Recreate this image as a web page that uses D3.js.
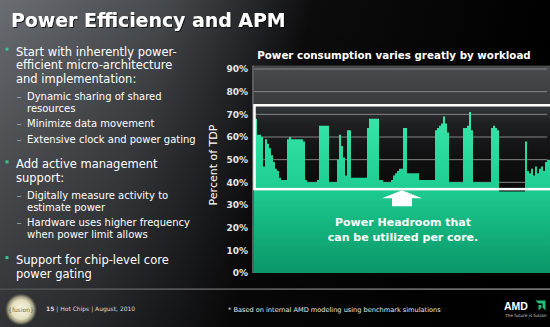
<!DOCTYPE html>
<html>
<head>
<meta charset="utf-8">
<script src="https://cdn.jsdelivr.net/npm/d3@7"></script>
<style>
  body { margin: 0; background: #000; }
  svg { display: block; font-family: "DejaVu Sans", Verdana, sans-serif; }
</style>
</head>
<body>
<div id="slide"></div>
<script>
// ---- slide text ----
const slideTitle = "Power Efficiency and APM";
const chartTitle = "Power consumption varies greatly by workload";
const yAxisTitle = "Percent of TDP";
const bullets = [
    {level: 1, lines: ["Start with inherently power-", "efficient micro-architecture", "and implementation:"]},
    {level: 2, lines: ["Dynamic sharing of shared", "resources"]},
    {level: 2, lines: ["Minimize data movement"]},
    {level: 2, lines: ["Extensive clock and power gating"]},
    {level: 1, lines: ["Add active management", "support:"]},
    {level: 2, lines: ["Digitally measure activity to", "estimate power"]},
    {level: 2, lines: ["Hardware uses higher frequency", "when power limit allows"]},
    {level: 1, lines: ["Support for chip-level core", "power gating"]}
];
const pageNumber = "15";
const footerText = " | Hot Chips | August, 2010";
const footnote = "* Based on internal AMD modeling using benchmark simulations";
const headroomLabel = ["Power Headroom that", "can be utilized per core."];

// ---- chart data ----
// y axis ticks, percent of TDP
const yTicks = [0, 10, 20, 30, 40, 50, 60, 70, 80, 90];

// power trace, percent of TDP, sampled left to right
const powerSamples = [
    62, 68, 61, 61, 60, 47, 59, 57, 55, 52, 49, 46, 45, 42, 41, 41, 41,
    59, 60, 59, 59, 59, 59, 59, 59, 58,
    41, 40, 40, 40, 40, 40, 41,
    65, 65, 65, 65, 65,
    40, 40, 40, 40, 50, 61, 56, 51, 43, 63, 63,
    42, 42, 42, 42, 42, 42, 42, 42,
    64, 68, 68, 68, 68, 68,
    41, 41, 40, 40, 40, 40, 41, 43, 44, 45, 46, 46,
    64, 64,
    44, 44, 44, 44, 44, 44,
    41, 41, 41, 41, 41, 41, 41, 41,
    63, 64, 65, 66, 69, 66, 62,
    40, 40, 40, 40, 40, 40, 40,
    64, 64, 65, 71, 63,
    40, 40, 40, 40, 40, 40, 40, 40, 40,
    64, 65, 64, 63,
    36, 36, 36, 36, 36, 36, 36, 36, 36, 36, 36, 36, 36,
    58, 45, 44, 46, 43, 47, 44, 46, 47, 45, 49, 50, 50
];

// headroom box bounds, percent of TDP
const headroomTop = 74;
const headroomBottom = 37;
// sample index the headroom arrow points at
const arrowSample = 74.5;

// ---- drawing ----
const W = 550, H = 327;
const svg = d3.select("#slide").append("svg")
    .attr("width", W)
    .attr("height", H);

const defs = svg.append("defs");

// slide background: grey on the left fading to black
const bgGrad = defs.append("linearGradient")
    .attr("id", "bg").attr("x1", 0).attr("y1", 0).attr("x2", 1).attr("y2", 0.15);
[[0, "#6a6d72"], [0.3, "#45484c"], [0.45, "#26272a"], [0.56, "#0c0c0d"], [1, "#000"]]
    .forEach(([o, c]) => bgGrad.append("stop").attr("offset", o).attr("stop-color", c));

const shadeGrad = defs.append("linearGradient")
    .attr("id", "shade").attr("x1", 0).attr("y1", 0).attr("x2", 0).attr("y2", 1);
shadeGrad.append("stop").attr("offset", 0).attr("stop-color", "#000").attr("stop-opacity", 0);
shadeGrad.append("stop").attr("offset", 1).attr("stop-color", "#000").attr("stop-opacity", 0.45);

svg.append("rect").attr("width", W).attr("height", H).attr("fill", "url(#bg)");
svg.append("rect").attr("width", W).attr("height", H).attr("fill", "url(#shade)");

// title shadow
const shadow = defs.append("filter").attr("id", "shadow")
    .attr("x", "-5%").attr("y", "-20%").attr("width", "110%").attr("height", "140%");
shadow.append("feDropShadow")
    .attr("dx", 1).attr("dy", 1).attr("stdDeviation", 0.6)
    .attr("flood-color", "#000").attr("flood-opacity", 0.7);

svg.append("text")
    .attr("x", 11).attr("y", 26.5)
    .attr("fill", "#fff")
    .attr("font-size", 18.9)
    .attr("font-weight", "bold")
    .attr("filter", "url(#shadow)")
    .text(slideTitle);

// ---- bullets ----
const bulletG = svg.append("g");
let by = 55.7;
bullets.forEach((b, i) => {
    if (i > 0) {
        const prev = bullets[i - 1];
        if (b.level === 1) by += 25.7;
        else by += prev.level === 1 ? 17.3 : 15.4;
    }
    const lh = b.level === 1 ? 13.4 : 12;
    if (b.level === 1) {
        bulletG.append("rect")
            .attr("x", 5.5).attr("y", by - 8)
            .attr("width", 3).attr("height", 3)
            .attr("fill", "#2ec98e");
    } else {
        bulletG.append("text")
            .attr("x", 16.5).attr("y", by)
            .attr("fill", "#a9abae")
            .attr("font-size", 10)
            .text("\u2013");
    }
    b.lines.forEach((line, j) => {
        bulletG.append("text")
            .attr("x", b.level === 1 ? 16 : 27)
            .attr("y", by + j * lh)
            .attr("fill", "#fff")
            .attr("font-size", b.level === 1 ? 11.5 : 10)
            .text(line);
    });
    by += (b.lines.length - 1) * lh;
});

// ---- chart ----
const x = d3.scaleLinear()
    .domain([0, powerSamples.length])
    .range([253, 551]);

const y = d3.scaleLinear()
    .domain([0, 90])
    .range([273, 69]);

svg.append("text")
    .attr("x", 394).attr("y", 59)
    .attr("text-anchor", "middle")
    .attr("fill", "#fff")
    .attr("font-size", 10.3)
    .attr("font-weight", "bold")
    .text(chartTitle);

// plot background
const plotGrad = defs.append("linearGradient")
    .attr("id", "plotbg").attr("gradientUnits", "userSpaceOnUse")
    .attr("x1", 0).attr("y1", y(92)).attr("x2", 0).attr("y2", y(35));
[[0, "#4a4b4e"], [0.3, "#3a3b3e"], [0.45, "#1f2022"], [0.7, "#111112"], [1, "#080808"]]
    .forEach(([o, c]) => plotGrad.append("stop").attr("offset", o).attr("stop-color", c));

svg.append("rect")
    .attr("x", x(0)).attr("y", y(91.5))
    .attr("width", x(powerSamples.length) - x(0))
    .attr("height", y(0) - y(91.5))
    .attr("fill", "url(#plotbg)");

// gridlines
svg.append("g")
    .selectAll("line")
    .data(yTicks.filter(d => d > 0))
    .join("line")
    .attr("x1", x(0)).attr("x2", 547)
    .attr("y1", d => y(d)).attr("y2", d => y(d))
    .attr("stroke", "#858585")
    .attr("stroke-width", 1);

// power area
const greenGrad = defs.append("linearGradient")
    .attr("id", "green").attr("gradientUnits", "userSpaceOnUse")
    .attr("x1", 0).attr("y1", y(72)).attr("x2", 0).attr("y2", y(0));
[[0, "#3ae8ab"], [0.45, "#1fcf93"], [1, "#0a9668"]]
    .forEach(([o, c]) => greenGrad.append("stop").attr("offset", o).attr("stop-color", c));

const points = powerSamples.map((v, i) => [i, v]);
points.push([powerSamples.length, powerSamples[powerSamples.length - 1]]);

const area = d3.area()
    .x(d => x(d[0]))
    .y0(y(0))
    .y1(d => y(d[1]))
    .curve(d3.curveStepAfter);

svg.append("path")
    .datum(points)
    .attr("d", area)
    .attr("fill", "url(#green)");

// y axis
const yAxis = d3.axisLeft(y)
    .tickValues(yTicks)
    .tickFormat(d => d + "%")
    .tickSize(0)
    .tickPadding(5);

const yAxisG = svg.append("g")
    .attr("transform", `translate(${x(0)},0)`)
    .call(yAxis);
yAxisG.select(".domain")
    .attr("stroke", "#5c5c5e")
    .attr("stroke-width", 2)
    .attr("d", `M0,${y(91.5)}V${y(0)}`);
yAxisG.selectAll("text")
    .attr("fill", "#e6e6e6")
    .attr("font-size", 9)
    .attr("font-weight", "bold")
    .attr("font-family", "DejaVu Sans, sans-serif");

svg.append("text")
    .attr("transform", `translate(217,165) rotate(-90)`)
    .attr("text-anchor", "middle")
    .attr("fill", "#fff")
    .attr("font-size", 11)
    .text(yAxisTitle);

// headroom box
svg.append("rect")
    .attr("x", x(0) + 1.5)
    .attr("y", y(headroomTop))
    .attr("width", x(powerSamples.length) - x(0) + 5)
    .attr("height", y(headroomBottom) - y(headroomTop))
    .attr("fill", "none")
    .attr("stroke", "#fff")
    .attr("stroke-width", 2.5);

// arrow up into the headroom box
const ax = x(arrowSample);
const ay = y(headroomBottom) + 1;
svg.append("path")
    .attr("d", `M${ax},${ay} L${ax + 20},${ay + 8} L${ax + 10},${ay + 8} L${ax + 10},${ay + 16}
                L${ax - 10},${ay + 16} L${ax - 10},${ay + 8} L${ax - 20},${ay + 8} Z`)
    .attr("fill", "#fff");

svg.append("g")
    .selectAll("text")
    .data(headroomLabel)
    .join("text")
    .attr("x", ax + 1)
    .attr("y", (d, i) => ay + 36 + i * 14.5)
    .attr("text-anchor", "middle")
    .attr("fill", "#fff")
    .attr("font-size", 11)
    .attr("font-weight", "bold")
    .text(d => d);

// ---- footer ----
const ruleGrad = defs.append("linearGradient")
    .attr("id", "rule").attr("x1", 0).attr("x2", 1);
ruleGrad.append("stop").attr("offset", 0).attr("stop-color", "#555");
ruleGrad.append("stop").attr("offset", 1).attr("stop-color", "#a5a5a5");

svg.append("rect")
    .attr("x", 0).attr("y", 288.5)
    .attr("width", W).attr("height", 1.2)
    .attr("fill", "url(#rule)");

// fusion badge
const glow = defs.append("radialGradient").attr("id", "glow");
[[0, "#fbf7e2", 1], [0.6, "#e4dfbd", 1], [0.8, "#bdb894", 0.8], [1, "#8d8a70", 0]]
    .forEach(([o, c, a]) => glow.append("stop").attr("offset", o)
        .attr("stop-color", c).attr("stop-opacity", a));

svg.append("circle")
    .attr("cx", 21).attr("cy", 309.5).attr("r", 16)
    .attr("fill", "url(#glow)");
svg.append("text")
    .attr("x", 21).attr("y", 311.5)
    .attr("text-anchor", "middle")
    .attr("fill", "#6b6650")
    .attr("font-size", 6)
    .text("{fusion}");

const footer = svg.append("text")
    .attr("x", 46).attr("y", 310.5)
    .attr("fill", "#dcdcdc")
    .attr("font-size", 6);
footer.append("tspan").attr("font-weight", "bold").text(pageNumber);
footer.append("tspan").text(footerText);

svg.append("text")
    .attr("x", 228).attr("y", 311.5)
    .attr("fill", "#e6e6e6")
    .attr("font-size", 6.6)
    .text(footnote);

// AMD mark
svg.append("text")
    .attr("x", 504).attr("y", 309.5)
    .attr("fill", "#fff")
    .attr("font-size", 10.5)
    .attr("font-weight", "bold")
    .attr("font-family", "Liberation Sans, Arial, sans-serif")
    .text("AMD");
const logo = svg.append("g").attr("transform", "translate(535.5,300.5)");
logo.append("path")
    .attr("d", "M0,0 H10 V10 L7,7 V3 H3 Z")
    .attr("fill", "#1fbf78");
logo.append("path")
    .attr("d", "M3,4.5 L5.8,4.5 L5.8,7.2 L3,10 Z")
    .attr("fill", "#1fbf78");
svg.append("text")
    .attr("x", 505).attr("y", 316.5)
    .attr("fill", "#cfcfcf")
    .attr("font-size", 4.3)
    .text("The future is fusion");
</script>
</body>
</html>
